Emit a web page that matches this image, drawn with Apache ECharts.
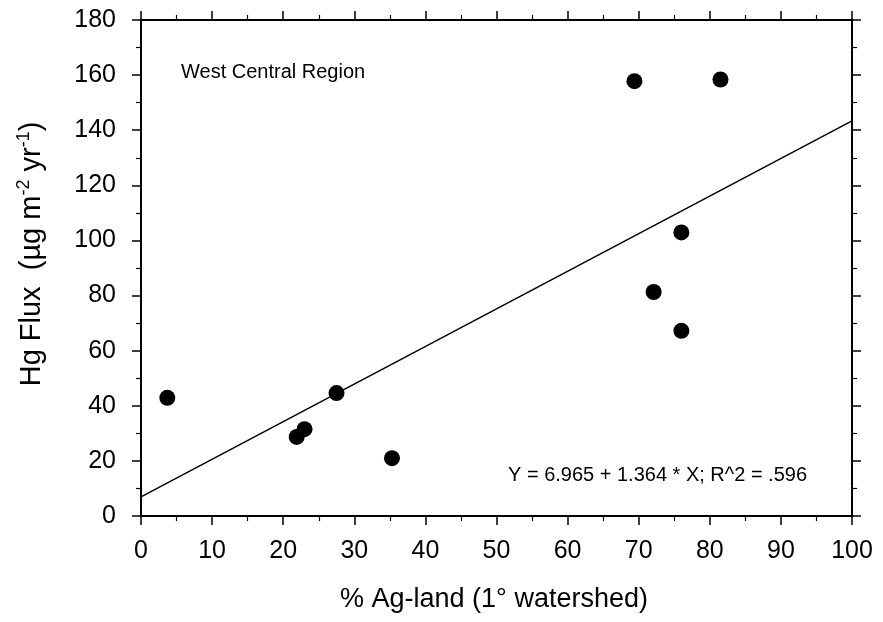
<!DOCTYPE html>
<html>
<head>
<meta charset="utf-8">
<title>Hg Flux vs % Ag-land</title>
<script src="https://cdn.jsdelivr.net/npm/echarts@6/dist/echarts.min.js"></script>
<style>
  html, body { margin: 0; padding: 0; background: #fff; }
  #chart { width: 883px; height: 622px; }
</style>
</head>
<body>
<div id="chart"></div>
<script>
// Watershed observations: % agricultural land vs. mercury flux
const agLand = [3.7, 21.9, 23.0, 27.5, 35.3, 69.4, 81.5, 76.0, 72.1, 76.0];
const hgFlux = [42.9, 28.7, 31.5, 44.6, 21.0, 157.8, 158.4, 102.9, 81.3, 67.2];

// Least-squares fit reported on the chart
const fitIntercept = 6.965;
const fitSlope = 1.364;
const fitR2 = 0.596;
const fitRange = [0, 100];

const xTicks = { min: 0, max: 100, interval: 10 };
const yTicks = { min: 0, max: 180, interval: 20 };

const FONT = '"Liberation Sans", Arial, Helvetica, sans-serif';

const points = agLand.map((x, i) => [x, hgFlux[i]]);
const fitLine = fitRange.map(x => [x, fitIntercept + fitSlope * x]);

const axisCommon = {
  type: 'value',
  axisLine: { show: true, onZero: false, lineStyle: { color: '#000', width: 2 } },
  axisTick: { show: true, inside: false, length: 9, lineStyle: { color: '#000', width: 1.5 } },
  minorTick: { show: true, splitNumber: 2, length: 5, lineStyle: { color: '#000', width: 1.2 } },
  splitLine: { show: false },
  minorSplitLine: { show: false }
};

const chart = echarts.init(document.getElementById('chart'), null, { renderer: 'canvas' });

chart.setOption({
  animation: false,
  backgroundColor: '#fff',
  grid: { left: 141, right: 31, top: 20, bottom: 106, containLabel: false },
  xAxis: [
    Object.assign({}, axisCommon, {
      position: 'bottom',
      min: xTicks.min, max: xTicks.max, interval: xTicks.interval,
      axisLabel: { color: '#000', fontFamily: FONT, fontSize: 25, margin: 23 }
    }),
    Object.assign({}, axisCommon, {
      position: 'top',
      min: xTicks.min, max: xTicks.max, interval: xTicks.interval,
      axisLabel: { show: false }
    })
  ],
  yAxis: [
    Object.assign({}, axisCommon, {
      position: 'left',
      min: yTicks.min, max: yTicks.max, interval: yTicks.interval,
      axisLabel: { color: '#000', fontFamily: FONT, fontSize: 25, margin: 25 }
    }),
    Object.assign({}, axisCommon, {
      position: 'right',
      min: yTicks.min, max: yTicks.max, interval: yTicks.interval,
      axisLabel: { show: false }
    })
  ],
  series: [
    {
      type: 'line',
      data: fitLine,
      showSymbol: false,
      lineStyle: { color: '#000', width: 1.5 },
      silent: true,
      z: 2
    },
    {
      type: 'scatter',
      data: points,
      symbol: 'circle',
      symbolSize: 16,
      itemStyle: { color: '#000', opacity: 1 },
      z: 3
    }
  ],
  graphic: [
    {
      type: 'text',
      left: 181,
      top: 62,
      style: { text: 'West Central Region', fill: '#000', font: '20px ' + FONT }
    },
    {
      type: 'text',
      left: 508,
      top: 465,
      style: {
        text: 'Y = ' + fitIntercept.toFixed(3) + ' + ' + fitSlope.toFixed(3) + ' * X; R^2 = ' +
              fitR2.toFixed(3).replace(/^0/, ''),
        fill: '#000',
        font: '20px ' + FONT
      }
    },
    {
      type: 'text',
      x: 494,
      y: 600,
      style: {
        text: '% Ag-land (1° watershed)',
        fill: '#000',
        font: '27px ' + FONT,
        align: 'center',
        verticalAlign: 'middle'
      }
    },
    {
      type: 'text',
      x: 32,
      y: 254,
      rotation: Math.PI / 2,
      style: {
        text: '{b|Hg Flux  (µg m}{s|-2}{b| yr}{s|-1}{b|)}',
        fill: '#000',
        align: 'center',
        verticalAlign: 'middle',
        rich: {
          b: { fontSize: 29, fontFamily: FONT, fill: '#000', lineHeight: 34 },
          s: { fontSize: 18, fontFamily: FONT, fill: '#000', lineHeight: 34, padding: [0, 0, 16, 0] }
        }
      }
    }
  ]
});
</script>
</body>
</html>
